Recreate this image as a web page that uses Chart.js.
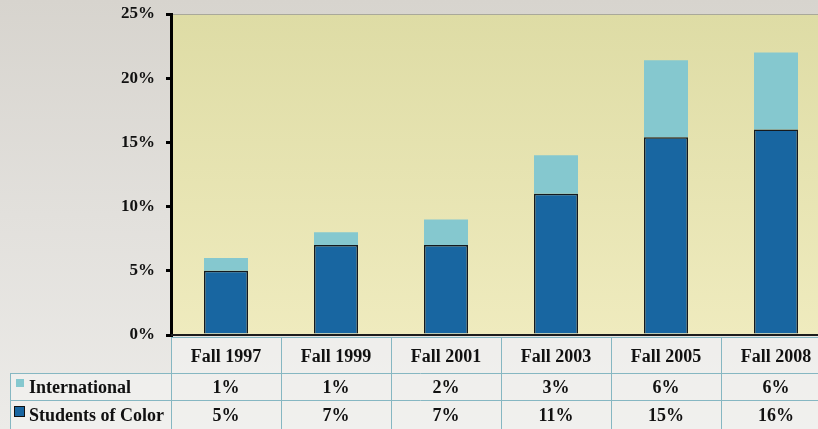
<!DOCTYPE html>
<html><head><meta charset="utf-8">
<script src="https://cdn.jsdelivr.net/npm/chart.js@4/dist/chart.umd.min.js"></script>
<style>
html,body{margin:0;padding:0;width:818px;height:429px;overflow:hidden;
background:linear-gradient(180deg,#d7d4ce 0%,#e2e0dc 50%,#ecebe8 100%);}
#wrap{position:absolute;left:0;top:0;width:840px;height:429px;}
</style></head>
<body><div id="wrap"><canvas id="c"></canvas></div>
<script>
const categories = ['Fall 1997','Fall 1999','Fall 2001','Fall 2003','Fall 2005','Fall 2008'];
const studentsOfColor = [5, 7, 7, 11, 15.4, 16];
const international = [1, 1, 2, 3, 6, 6];
const socLabels = ['5%','7%','7%','11%','15%','16%'];
const intlLabels = ['1%','1%','2%','3%','6%','6%'];
const yTicks = [0,5,10,15,20,25];

const DARK = '#1866a1', LIGHT = '#85c8cf', GRID = '#86b7c2';
const FONT = 'bold 18px "Liberation Serif", "Times New Roman", serif';

const bgPlugin = {
  id:'bg',
  beforeDraw(chart){
    const {ctx, chartArea:a} = chart;
    const g = ctx.createLinearGradient(0,a.top,0,a.bottom);
    g.addColorStop(0,'#dedca5'); g.addColorStop(1,'#efebbe');
    ctx.save(); ctx.fillStyle = g; ctx.fillRect(a.left,a.top,a.right-a.left,a.bottom-a.top);
    ctx.strokeStyle='#a9a89a'; ctx.lineWidth=1;
    ctx.beginPath(); ctx.moveTo(a.left,a.top+0.5); ctx.lineTo(a.right,a.top+0.5); ctx.stroke();
    ctx.restore();
  },
  afterDraw(chart){
    const {ctx, chartArea:a, scales:{x}} = chart;
    ctx.save();
    ctx.strokeStyle='#1c1c1c'; ctx.lineWidth=2;
    ctx.beginPath(); ctx.moveTo(a.left,a.bottom); ctx.lineTo(a.right,a.bottom); ctx.stroke();
    const step = x.getPixelForValue(1)-x.getPixelForValue(0);
    const top = a.bottom+2, r1 = 373, r2 = 400, bot = 429;
    const left = x.getPixelForValue(0)-step/2, right = x.getPixelForValue(categories.length-1)+step/2;
    ctx.fillStyle='rgba(244,244,242,0.6)';
    ctx.fillRect(left,top,right-left,bot-top);
    ctx.fillRect(10,r1,left-10,bot-r1);
    ctx.strokeStyle=GRID; ctx.lineWidth=1;
    ctx.beginPath();
    for(let i=0;i<=categories.length;i++){
      const px = Math.round(left+i*step)+0.5;
      ctx.moveTo(px,top); ctx.lineTo(px,bot);
    }
    ctx.moveTo(left,top+0.5); ctx.lineTo(right,top+0.5);
    ctx.moveTo(10,r1+0.5); ctx.lineTo(right,r1+0.5);
    ctx.moveTo(10,r2+0.5); ctx.lineTo(right,r2+0.5);
    ctx.moveTo(10.5,r1); ctx.lineTo(10.5,bot);
    ctx.stroke();
    ctx.fillStyle='#111'; ctx.font=FONT; ctx.textAlign='center'; ctx.textBaseline='middle';
    categories.forEach((c,i)=>{
      const cx = x.getPixelForValue(i);
      ctx.fillText(c,cx,(top+r1)/2+2);
      ctx.fillText(intlLabels[i],cx,(r1+r2)/2+2);
      ctx.fillText(socLabels[i],cx,(r2+bot)/2+2);
    });
    ctx.textAlign='left';
    ctx.fillStyle=LIGHT; ctx.fillRect(16,379,8,8);
    ctx.fillStyle=DARK; ctx.fillRect(15,407,9,9);
    ctx.strokeStyle='#111'; ctx.lineWidth=1; ctx.strokeRect(14.5,406.5,10,10);
    ctx.fillStyle='#111';
    ctx.fillText('International',29,(r1+r2)/2+2);
    ctx.fillText('Students of Color',29,(r2+bot)/2+2);
    ctx.restore();
  }
};

new Chart(document.getElementById('c'),{
  type:'bar',
  data:{labels:categories,datasets:[
    {label:'Students of Color',data:studentsOfColor,backgroundColor:DARK,borderColor:'#151a1e',borderWidth:1.5,borderSkipped:'bottom'},
    {label:'International',data:international,backgroundColor:LIGHT,borderWidth:0}
  ]},
  options:{
    responsive:true,maintainAspectRatio:false,animation:false,
    layout:{padding:{left:0,top:14,right:9,bottom:94}},
    plugins:{legend:{display:false},tooltip:{enabled:false}},
    datasets:{bar:{categoryPercentage:1,barPercentage:0.4}},
    scales:{
      x:{display:false,stacked:true},
      y:{stacked:true,min:0,max:25,
        afterFit(s){s.width=171; s.paddingTop=0; s.paddingBottom=0;},
        afterBuildTicks(s){s.ticks=yTicks.map(v=>({value:v}));},
        grid:{drawOnChartArea:false,color:'#000',lineWidth:3,tickLength:5},
        border:{display:true,color:'#000',width:3},
        ticks:{color:'#111',padding:11,font:{family:'"Liberation Serif", "Times New Roman", serif',size:17,weight:'bold'},
          callback:v=>v+'%'}
      }
    }
  },
  plugins:[bgPlugin]
});
</script></body></html>
